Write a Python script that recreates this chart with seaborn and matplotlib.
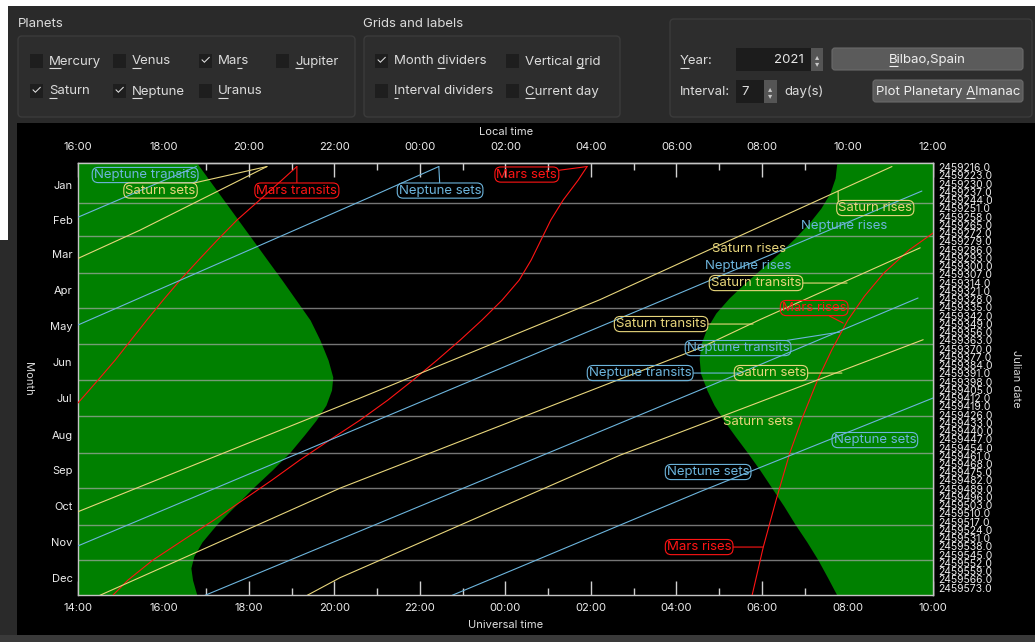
import numpy as np
import pandas as pd
import matplotlib
matplotlib.use("Agg")
import matplotlib.pyplot as plt
import seaborn as sns
from matplotlib.patches import Rectangle, FancyBboxPatch

W, H = 1035, 642

# Bilbao 2021: days counted from 1 Jan 0h UT, times in UT hours
# (hours after midnight keep counting past 24 so every curve is continuous)
sunset_day = [-3, 14, 31, 48, 64.9, 81.9, 96.3, 113.3, 130.3, 147.3, 164.3, 178.7,
              189.7, 202.5, 215.2, 228, 242.4, 257.6, 272.9, 288.2, 303.5, 318.7,
              330.6, 340.8, 351, 363.7]
sunset_ut = [16.78, 17.12, 17.46, 17.80, 18.14, 18.48, 18.77, 19.10, 19.43, 19.66,
             19.85, 19.96, 19.93, 19.80, 19.57, 19.29, 18.96, 18.54, 18.09, 17.67,
             17.25, 16.90, 16.71, 16.64, 16.68, 16.78]
sunrise_day = [-3, 9.8, 22.5, 35.2, 48, 60.7, 73.4, 86.2, 98.9, 111.6, 124.4, 137.1,
               149.8, 162.6, 175.3, 189.7, 202.5, 215.2, 228.8, 242.4, 257.6, 272.9,
               288.2, 303.5, 318.7, 334, 349.3, 363.7]
sunrise_ut = [31.75, 31.71, 31.59, 31.38, 31.10, 30.77, 30.40, 30.00, 29.60, 29.23,
              28.92, 28.71, 28.58, 28.53, 28.56, 28.71, 28.88, 29.10, 29.37, 29.65,
              29.95, 30.23, 30.51, 30.77, 31.05, 31.31, 31.54, 31.75]

mars_transits_day = [0, 11.5, 28.4, 45.4, 62.4, 79.4, 96.4, 113.4, 130.3, 147.3,
                     164.3, 181.2, 200.7]
mars_transits_ut = [19.12, 18.77, 18.25, 17.72, 17.26, 16.82, 16.39, 15.99, 15.61,
                    15.24, 14.87, 14.47, 14.0]
mars_sets_day = [0, 11.5, 28.4, 45.4, 62.4, 79.4, 96.4, 113.4, 130.3, 147.3, 164.3,
                 181.2, 198.2, 215.2, 232.1, 249.1, 266.1, 283.1, 300.1, 317.1,
                 334.1, 351, 363.7]
mars_sets_ut = [25.91, 25.70, 25.35, 25.06, 24.83, 24.60, 24.32, 23.92, 23.45, 22.94,
                22.40, 21.84, 21.25, 20.60, 19.89, 19.19, 18.54, 17.86, 17.18, 16.46,
                15.75, 15.17, 14.82]
mars_rises_day = [56.5, 70.9, 90.4, 109.9, 130.3, 155.8, 181.2, 211.8, 243.2, 283.1,
                  323, 363.7]
mars_rises_ut = [34.0, 33.44, 32.85, 32.40, 32.01, 31.63, 31.30, 30.96, 30.65, 30.33,
                 30.03, 29.77]

saturn_sets1_day = [0, 54, 78]
saturn_sets1_ut = [18.42, 15.45, 14.0]
saturn_sets2_day = [147, 245, 349, 364]
saturn_sets2_ut = [33.77, 26.68, 20.13, 19.36]
saturn_rises_day = [0, 82, 113, 196.5, 293]
saturn_rises_ut = [33.04, 28.08, 26.21, 20.6, 14.0]
saturn_transits_day = [69, 130, 154, 273, 364]
saturn_transits_ut = [33.70, 29.95, 28.55, 20.13, 14.51]

neptune_transits1_day = [0, 43]
neptune_transits1_ut = [16.77, 14.0]
neptune_transits2_day = [111.6, 189.7, 364]
neptune_transits2_ut = [33.65, 28.55, 16.97]
neptune_sets1_day = [0, 26, 134.5]
neptune_sets1_ut = [22.44, 20.83, 14.0]
neptune_sets2_day = [196.5, 276, 364]
neptune_sets2_ut = [34.0, 28.55, 22.75]
neptune_rises_day = [20.8, 107.4, 322]
neptune_rises_ut = [33.74, 28.08, 14.0]

month_names = ["Jan", "Feb", "Mar", "Apr", "May", "Jun",
               "Jul", "Aug", "Sep", "Oct", "Nov", "Dec"]
month_lengths = [31, 28, 31, 30, 31, 30, 31, 31, 30, 31, 30, 31]
JD0 = 2459215.5  # 1 Jan 2021 0h UT

# event labels drawn on the chart (UT hour, day), optional leader target
label_text = ["Neptune transits", "Saturn sets", "Mars transits", "Neptune sets",
              "Mars sets", "Saturn rises", "Neptune rises", "Saturn rises",
              "Neptune rises", "Saturn transits", "Mars rises", "Saturn transits",
              "Neptune transits", "Neptune transits", "Saturn sets", "Saturn sets",
              "Neptune sets", "Neptune sets", "Mars rises"]
label_planet = ["Neptune", "Saturn", "Mars", "Neptune", "Mars", "Saturn", "Neptune",
                "Saturn", "Neptune", "Saturn", "Mars", "Saturn", "Neptune",
                "Neptune", "Saturn", "Saturn", "Neptune", "Neptune", "Mars"]
label_ut = [15.57, 15.93, 19.12, 22.47, 24.50, 32.65, 31.92, 29.70, 29.67, 29.86,
            31.22, 27.64, 29.44, 27.15, 30.21, 29.91, 32.64, 28.74, 28.53]
label_day = [7.2, 20.4, 20.4, 20.4, 6.8, 35.2, 50.5, 70.0, 84.5, 98.9,
             120.1, 133.7, 154.1, 175.3, 175.3, 216.9, 232.2, 259.3, 323]
label_boxed = [True, True, True, True, True, True, False, False, False, True,
               True, True, True, True, True, False, True, True, True]
leader_ut = [None, 18.42, 19.12, 22.44, 25.91, 31.78, None, None, None, 31.99,
             31.9, 29.79, 31.82, 29.49, 31.87, None, None, None, 30.02]
leader_day = [None, 0, 0, 0, 0, 20.8, None, None, None, 98.9,
              132.9, 133.7, 140.5, 175.3, 175.3, None, None, None, 323]
leader_from = ["c", "c", "c", "c", "c", "tl", "c", "c", "c", "c",
               "c", "c", "c", "c", "c", "c", "c", "c", "c"]

planet_colors = {"Mars": "#ff1414", "Saturn": "#e8d67c", "Neptune": "#6db5dd"}

segments = [
    ("Mars", mars_transits_day, mars_transits_ut),
    ("Mars", mars_sets_day, mars_sets_ut),
    ("Mars", mars_rises_day, mars_rises_ut),
    ("Saturn", saturn_sets1_day, saturn_sets1_ut),
    ("Saturn", saturn_sets2_day, saturn_sets2_ut),
    ("Saturn", saturn_rises_day, saturn_rises_ut),
    ("Saturn", saturn_transits_day, saturn_transits_ut),
    ("Neptune", neptune_transits1_day, neptune_transits1_ut),
    ("Neptune", neptune_transits2_day, neptune_transits2_ut),
    ("Neptune", neptune_sets1_day, neptune_sets1_ut),
    ("Neptune", neptune_sets2_day, neptune_sets2_ut),
    ("Neptune", neptune_rises_day, neptune_rises_ut),
]
rows = []
for i, (planet, days, uts) in enumerate(segments):
    for d, u in zip(days, uts):
        rows.append({"segment": i, "planet": planet, "day": d, "ut": u})
events = pd.DataFrame(rows)

sns.set_theme(style="dark", rc={
    "axes.facecolor": "black", "figure.facecolor": "#2a2a2a",
    "text.color": "#e8e8e8", "axes.labelcolor": "#d8d8d8",
    "xtick.color": "#d0d0d0", "ytick.color": "#d0d0d0",
    "xtick.labelcolor": "#ececec", "ytick.labelcolor": "#ececec",
    "axes.edgecolor": "#c4c4c4", "axes.linewidth": 1.0})
plt.rcParams["font.family"] = ["Inter", "DejaVu Sans"]

fig = plt.figure(figsize=(W / 100, H / 100), dpi=100)
renderer = fig.canvas.get_renderer()

# ---- window chrome, drawn in pixel coordinates ----
g = fig.add_axes([0, 0, 1, 1], zorder=0)
g.set_xlim(0, W)
g.set_ylim(H, 0)
g.axis("off")
g.add_patch(Rectangle((0, 0), W, H, fc="#2a2a2a", ec="none"))
g.add_patch(Rectangle((0, 0), W, 5.5, fc="white", ec="none"))
g.add_patch(Rectangle((0, 0), 7.5, 240, fc="white", ec="none"))
g.add_patch(Rectangle((0, 635), W, 7, fc="#3a3a3a", ec="none"))
g.add_patch(Rectangle((17, 123), W - 17, 512, fc="black", ec="none"))

for x0, w0, y0, h0 in [(18, 337, 36, 81), (364, 256, 36, 81), (670, 362, 19, 98)]:
    g.add_patch(FancyBboxPatch((x0, y0), w0, h0, boxstyle="round,pad=0,rounding_size=4",
                               fc="#2d2d2d", ec="#3b3b3b", lw=1))


def text_width(s, size=9.5):
    t = g.text(0, 0, s, fontsize=size)
    w = t.get_window_extent(renderer).width
    t.remove()
    return w


def gui_text(x, y, s, key=None, ha="left", color="#dcdcdc"):
    g.text(x, y, s, color=color, fontsize=9.5, va="center", ha=hax if (hax := ha) else "left")
    if key is None:
        return
    left = x if ha == "left" else x - text_width(s) / 2
    end = left + text_width(s[:key + 1])
    start = end - text_width(s[key])
    g.plot([start, end], [y + 6.5, y + 6.5], color=color, lw=0.8, solid_capstyle="butt")


gui_text(18, 24, "Planets")
gui_text(363, 24, "Grids and labels")

planet_names = ["Mercury", "Venus", "Mars", "Jupiter", "Saturn", "Neptune", "Uranus"]
planet_keys = [0, 0, 2, 0, 0, 0, 0]
planet_checked = [False, False, True, False, True, True, False]
grid_names = ["Month dividers", "Vertical grid", "Interval dividers", "Current day"]
grid_keys = [6, 9, 0, 0]
grid_checked = [True, False, False, False]
boxes = list(zip(planet_names, planet_keys, planet_checked,
                 [30, 113, 199, 276, 30, 113, 199], [61, 61, 61, 61, 91, 91, 91]))
boxes += list(zip(grid_names, grid_keys, grid_checked, [375, 506, 375, 506], [61, 61, 91, 91]))
for name, key, checked, bx, by in boxes:
    g.add_patch(Rectangle((bx, by - 7), 13, 14, fc="#1e1e1e", ec="none"))
    if checked:
        g.text(bx + 6.5, by, "\u2713", color="#e0e0e0", fontsize=9, ha="center", va="center")
    gui_text(bx + 19, by + 0.5, name, key)

gui_text(680, 61, "Year:", 0)
g.add_patch(Rectangle((736, 48), 76, 23, fc="#1c1c1c", ec="none"))
g.add_patch(Rectangle((811, 48), 12, 23, fc="#555555", ec="none"))
g.text(804, 60, "2021", ha="right", color="#e6e6e6", fontsize=9.5, va="center")
gui_text(680, 92, "Interval:")
g.add_patch(Rectangle((736, 80), 41, 23, fc="#1c1c1c", ec="none"))
g.add_patch(Rectangle((764, 80), 13, 23, fc="#555555", ec="none"))
gui_text(741, 92, "7")
gui_text(784, 92, "day(s)")
for sx, sy in [(817, 60), (770.5, 92)]:
    g.text(sx, sy - 3.5, "\u25b4", color="#c8c8c8", fontsize=6, ha="center", va="center",
           family="DejaVu Sans")
    g.text(sx, sy + 3.5, "\u25be", color="#c8c8c8", fontsize=6, ha="center", va="center",
           family="DejaVu Sans")
for bx, by, bw, label, key in [(832, 48, 191, "Bilbao,Spain", 0),
                               (873, 80, 150, "Plot Planetary Almanac", 15)]:
    g.add_patch(FancyBboxPatch((bx, by), bw, 22, boxstyle="round,pad=0,rounding_size=3",
                               fc="#5b5b5b", ec="#6a6a6a", lw=0.8))
    gui_text(bx + bw / 2, by + 11.5, label, key, ha="center", color="#f0f0f0")

g.text(28, 379, "Month", rotation=270, ha="center", va="center", color="#d8d8d8", fontsize=8)
g.text(1016, 379, "Julian date", rotation=270, ha="center", va="center", color="#d8d8d8", fontsize=8)
g.text(506, 132, "Local time", ha="center", va="center", color="#e0e0e0", fontsize=8)
g.text(506, 625, "Universal time", ha="center", va="center", color="#e0e0e0", fontsize=8)

# ---- almanac plot ----
ax = fig.add_axes([78 / W, 1 - 595 / H, 855 / W, 432 / H], zorder=1)
ax.set_facecolor("black")
ax.set_xlim(14, 34)
ax.set_ylim(363.7, -3)
ax.grid(False)

ax.fill_betweenx(sunset_day, 14, sunset_ut, color="green", lw=0, zorder=1)
ax.fill_betweenx(sunrise_day, sunrise_ut, 34, color="green", lw=0, zorder=1)

month_starts = np.cumsum([0] + month_lengths)
month_mids = (month_starts[:-1] + month_starts[1:]) / 2
ax.hlines(month_starts[1:-1], 14, 34, color="#a8a8a8", lw=1.0, alpha=0.7, zorder=2)

sns.lineplot(data=events, x="ut", y="day", hue="planet", units="segment",
             estimator=None, sort=False, orient="y", palette=planet_colors,
             legend=False, lw=0.8, ax=ax, zorder=3)
ax.set_xlabel("")
ax.set_ylabel("")

for i, text in enumerate(label_text):
    col = planet_colors[label_planet[i]]
    bbox = None
    if label_boxed[i]:
        bbox = dict(boxstyle="round,pad=0.12,rounding_size=0.45", fc="none", ec=col, lw=0.8)
    if leader_ut[i] is None:
        ax.text(label_ut[i], label_day[i], text, color=col, fontsize=9.5,
                ha="center", va="center", bbox=bbox, zorder=5)
    else:
        relpos = (0, 1) if leader_from[i] == "tl" else (0.5, 0.5)
        ax.annotate(text, xy=(leader_ut[i], leader_day[i]), xytext=(label_ut[i], label_day[i]),
                    color=col, fontsize=9.5, ha="center", va="center", bbox=bbox, zorder=5,
                    annotation_clip=False,
                    arrowprops=dict(arrowstyle="-", color=col, lw=0.8, shrinkA=0, shrinkB=0,
                                    relpos=relpos))

hours = list(range(14, 35, 2))
ax.set_xticks(hours)
ax.set_xticklabels([f"{h % 24:02d}:00" for h in hours])
ax.set_xticks(list(range(15, 34, 2)), minor=True)
ax.tick_params(axis="x", which="major", bottom=True, top=False, direction="in",
               length=10, width=1, pad=6, labelsize=8)
ax.tick_params(axis="x", which="minor", bottom=True, top=False, direction="in",
               length=5, width=1)

ax.set_yticks(month_starts[1:-1])
ax.set_yticklabels([])
ax.set_yticks(month_mids, minor=True)
ax.set_yticklabels(month_names, minor=True)
ax.tick_params(axis="y", which="major", left=True, right=True, direction="in",
               length=10, width=1, color="#e0e0e0")
ax.tick_params(axis="y", which="minor", left=True, length=0, pad=4, labelsize=8)

top = ax.secondary_xaxis("top", functions=(lambda x: x + 2, lambda x: x - 2))
local_hours = list(range(16, 37, 2))
top.set_xticks(local_hours)
top.set_xticklabels([f"{h % 24:02d}:00" for h in local_hours])
top.set_xticks(list(range(17, 36, 2)), minor=True)
top.tick_params(axis="x", which="major", direction="in", length=10, width=1, pad=8, labelsize=8)
top.tick_params(axis="x", which="minor", direction="in", length=5, width=1)

right = ax.secondary_yaxis("right", functions=(lambda d: d + JD0, lambda j: j - JD0))
jd_ticks = np.arange(2459216.0, 2459581.0, 7)
right.set_yticks(jd_ticks)
right.set_yticklabels([f"{t:.1f}" for t in jd_ticks])
right.tick_params(axis="y", which="major", direction="in", length=6, width=1, pad=4,
                  labelsize=7.5, color="#e0e0e0")
right.tick_params(axis="y", which="minor", length=0)

for sp in ax.spines.values():
    sp.set_color("#c4c4c4")
    sp.set_linewidth(1.0)
for sp in list(top.spines.values()) + list(right.spines.values()):
    sp.set_color("#c4c4c4")

fig.savefig("out.png", dpi=100, facecolor=fig.get_facecolor())
